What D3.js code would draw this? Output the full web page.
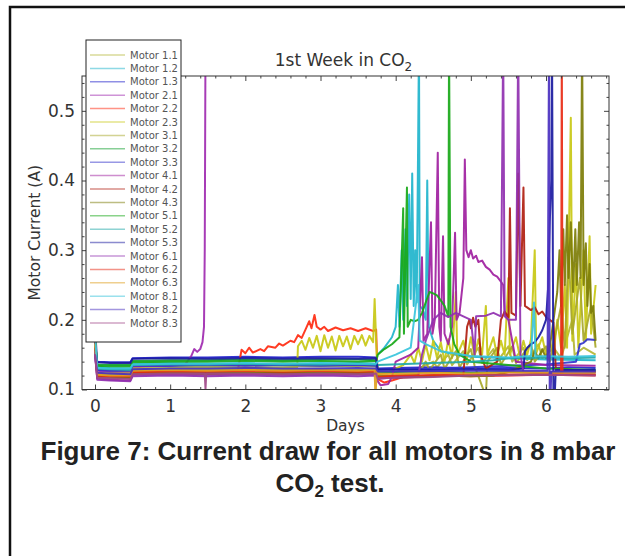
<!DOCTYPE html>
<html>
<head>
<meta charset="utf-8">
<script src="https://cdn.jsdelivr.net/npm/d3@7"></script>
<style>
    body { margin: 0; background: #fff; }
    svg text { font-family: "DejaVu Sans", sans-serif; }
    .caption { font-family: "Liberation Sans", Arial, sans-serif; font-weight: bold; fill: #222; }
</style>
</head>
<body>
<div id="chart"></div>
<script>
// legend names and colours, one per motor
const motors = ["Motor 1.1", "Motor 1.2", "Motor 1.3", "Motor 2.1", "Motor 2.2", "Motor 2.3",
    "Motor 3.1", "Motor 3.2", "Motor 3.3", "Motor 4.1", "Motor 4.2", "Motor 4.3",
    "Motor 5.1", "Motor 5.2", "Motor 5.3", "Motor 6.1", "Motor 6.2", "Motor 6.3",
    "Motor 8.1", "Motor 8.2", "Motor 8.3"];

const colors = ["#b3b636", "#1fb4cc", "#2222cc", "#a02ab0", "#ff2a10", "#c8c814",
    "#a8a82a", "#12a030", "#3333cc", "#a020a0", "#b01e10", "#7d7d08",
    "#18a818", "#20a8a8", "#1a1aa0", "#9030b0", "#e82a14", "#e0a020",
    "#38c4dc", "#4a30c0", "#a04888"];

const xTicks = [0, 1, 2, 3, 4, 5, 6];
const yTicks = [0.1, 0.2, 0.3, 0.4, 0.5];

// [day, current (A)]
const m11 = [[0,0.175],[0.03,0.128],[0.2,0.127],[0.47,0.126],[0.5,0.133],[1,0.134],[1.5,0.133],[2,0.135],[2.5,0.134],[3,0.133],[3.5,0.134],[3.74,0.133],[3.76,0.124],[4,0.126],[4.3,0.13],[4.5,0.14],[4.55,0.132],[4.7,0.15],[4.75,0.135],[4.9,0.155],[4.95,0.136],[5.1,0.16],[5.15,0.138],[5.3,0.158],[5.35,0.14],[5.5,0.162],[5.55,0.14],[5.7,0.16],[5.75,0.142],[5.9,0.165],[5.95,0.145],[6.1,0.16],[6.2,0.145],[6.35,0.2],[6.38,0.15],[6.5,0.16],[6.66,0.15]];
const m12 = [[0,0.19],[0.03,0.133],[0.2,0.131],[0.47,0.13],[0.5,0.137],[1,0.138],[1.5,0.137],[2,0.137],[2.5,0.136],[3,0.137],[3.5,0.138],[3.74,0.137],[3.76,0.15],[3.85,0.16],[3.95,0.175],[4.0,0.19],[4.03,0.25],[4.05,0.19],[4.08,0.3],[4.1,0.2],[4.13,0.33],[4.15,0.22],[4.18,0.38],[4.2,0.23],[4.22,0.41],[4.24,0.22],[4.26,0.3],[4.28,0.225],[4.3,0.47],[4.31,0.6],[4.32,0.22],[4.36,0.215],[4.4,0.2],[4.42,0.4],[4.44,0.19],[4.5,0.17],[4.6,0.155],[4.8,0.15],[5.0,0.147],[5.5,0.145],[6.0,0.143],[6.66,0.142]];
const m13 = [[0,0.165],[0.03,0.14],[0.2,0.139],[0.47,0.139],[0.5,0.145],[1,0.146],[1.5,0.146],[2,0.147],[2.5,0.146],[3,0.147],[3.5,0.147],[3.74,0.146],[3.76,0.13],[4,0.131],[4.5,0.132],[5,0.13],[5.5,0.131],[6,0.13],[6.3,0.132],[6.66,0.131]];
const m21 = [[0,0.2],[0.03,0.127],[0.2,0.125],[0.47,0.124],[0.5,0.132],[1,0.134],[1.2,0.136],[1.28,0.148],[1.32,0.158],[1.36,0.154],[1.4,0.158],[1.43,0.168],[1.45,0.19],[1.46,0.3],[1.47,0.6]];
const m22 = [[0,0.18],[0.03,0.12],[0.2,0.119],[0.47,0.118],[0.5,0.126],[1,0.127],[1.5,0.126],[1.9,0.127],[1.95,0.157],[2.0,0.152],[2.05,0.16],[2.1,0.153],[2.2,0.158],[2.25,0.155],[2.3,0.162],[2.4,0.16],[2.45,0.166],[2.5,0.163],[2.6,0.17],[2.65,0.168],[2.7,0.178],[2.75,0.174],[2.8,0.186],[2.85,0.198],[2.88,0.188],[2.92,0.207],[2.95,0.19],[3.0,0.186],[3.05,0.19],[3.1,0.184],[3.2,0.189],[3.3,0.185],[3.4,0.188],[3.5,0.184],[3.6,0.188],[3.7,0.184],[3.74,0.186],[3.76,0.115],[3.85,0.11],[3.95,0.113],[4.1,0.118],[4.5,0.12],[5,0.119],[5.5,0.12],[6,0.121],[6.66,0.12]];
const m23 = [[0,0.17],[0.03,0.124],[0.2,0.123],[0.47,0.123],[0.5,0.13],[1,0.131],[1.5,0.131],[2,0.132],[2.5,0.131],[2.69,0.132],[2.7,0.162],[2.75,0.17],[2.8,0.157],[2.85,0.174],[2.9,0.16],[2.95,0.177],[3.0,0.155],[3.05,0.178],[3.1,0.16],[3.15,0.176],[3.2,0.156],[3.25,0.177],[3.3,0.162],[3.35,0.176],[3.4,0.158],[3.45,0.177],[3.5,0.165],[3.55,0.178],[3.6,0.163],[3.65,0.177],[3.7,0.168],[3.72,0.23],[3.74,0.17],[3.76,0.122],[3.9,0.125],[4.0,0.13],[4.1,0.135],[4.2,0.15],[4.25,0.138],[4.3,0.16],[4.35,0.14],[4.4,0.165],[4.45,0.142],[4.5,0.17],[4.55,0.145],[4.6,0.168],[4.65,0.14],[4.7,0.172],[4.75,0.145],[4.8,0.24],[4.82,0.15],[4.9,0.17],[4.95,0.145],[5.0,0.175],[5.05,0.148],[5.1,0.172],[5.15,0.15],[5.2,0.22],[5.22,0.15],[5.3,0.175],[5.35,0.148],[5.4,0.17],[5.45,0.15],[5.5,0.26],[5.52,0.15],[5.6,0.175],[5.65,0.148],[5.7,0.17],[5.75,0.15],[5.8,0.172],[5.85,0.3],[5.87,0.152],[5.95,0.175],[6.0,0.15],[6.05,0.17],[6.1,0.15],[6.15,0.2],[6.2,0.16],[6.25,0.25],[6.28,0.16],[6.33,0.49],[6.35,0.17],[6.4,0.28],[6.43,0.16],[6.5,0.3],[6.53,0.17],[6.58,0.32],[6.6,0.18],[6.66,0.25]];
const m31 = [[0,0.16],[0.03,0.122],[0.2,0.121],[0.47,0.12],[0.5,0.128],[1,0.129],[1.5,0.128],[2,0.129],[2.5,0.128],[3,0.129],[3.5,0.128],[3.74,0.129],[3.76,0.118],[4.0,0.12],[4.3,0.122],[4.4,0.14],[4.45,0.128],[4.6,0.15],[4.65,0.13],[4.8,0.155],[4.85,0.132],[5.0,0.158],[5.05,0.134],[5.2,0.09],[5.22,0.14],[5.35,0.16],[5.4,0.136],[5.55,0.162],[5.6,0.138],[5.8,0.165],[5.85,0.14],[6.0,0.162],[6.05,0.14],[6.2,0.22],[6.25,0.16],[6.3,0.3],[6.35,0.18],[6.45,0.26],[6.5,0.17],[6.6,0.22],[6.66,0.16]];
const m32 = [[0,0.17],[0.03,0.136],[0.2,0.135],[0.47,0.135],[0.5,0.141],[1,0.142],[1.5,0.142],[2,0.143],[2.5,0.142],[3,0.143],[3.5,0.143],[3.74,0.142],[3.76,0.126],[4,0.125],[4.5,0.126],[5,0.124],[5.5,0.125],[6,0.124],[6.3,0.127],[6.66,0.126]];
const m33 = [[0,0.16],[0.03,0.128],[0.2,0.127],[0.47,0.127],[0.5,0.134],[1,0.134],[1.5,0.135],[2,0.134],[2.5,0.135],[3,0.134],[3.5,0.135],[3.74,0.134],[3.76,0.128],[4.5,0.13],[5,0.132],[5.5,0.134],[6,0.136],[6.4,0.14],[6.45,0.165],[6.5,0.167],[6.55,0.172],[6.66,0.171]];
const m41 = [[0,0.15],[0.03,0.116],[0.2,0.114],[0.47,0.113],[0.5,0.121],[1,0.122],[1.5,0.121],[2,0.122],[2.5,0.121],[3,0.121],[3.5,0.122],[3.74,0.121],[3.76,0.112],[3.8,0.106],[3.9,0.108],[3.95,0.118],[4.0,0.14],[4.1,0.145],[4.2,0.15],[4.3,0.16],[4.35,0.29],[4.37,0.17],[4.42,0.18],[4.47,0.34],[4.49,0.18],[4.52,0.2],[4.56,0.44],[4.58,0.19],[4.6,0.17],[4.63,0.32],[4.65,0.18],[4.7,0.165],[4.75,0.19],[4.79,0.325],[4.81,0.2],[4.85,0.21],[4.9,0.26],[4.92,0.43],[4.94,0.3],[4.97,0.29],[5.0,0.3],[5.03,0.288],[5.07,0.292],[5.1,0.283],[5.15,0.285],[5.2,0.276],[5.25,0.272],[5.3,0.265],[5.35,0.262],[5.4,0.255],[5.43,0.25],[5.45,0.21],[5.5,0.2],[5.55,0.17],[5.6,0.14],[6.0,0.135],[6.66,0.134]];
const m42 = [[0,0.185],[0.03,0.119],[0.2,0.118],[0.47,0.117],[0.5,0.124],[1,0.125],[1.5,0.124],[2,0.125],[2.5,0.124],[3,0.125],[3.5,0.124],[3.74,0.125],[3.76,0.118],[4.0,0.117],[4.5,0.119],[4.9,0.12],[4.95,0.19],[4.98,0.2],[5.0,0.188],[5.03,0.203],[5.06,0.19],[5.1,0.2],[5.13,0.15],[5.2,0.13],[5.35,0.14],[5.4,0.2],[5.45,0.212],[5.5,0.204],[5.52,0.36],[5.54,0.21],[5.6,0.206],[5.63,0.41],[5.66,0.22],[5.7,0.39],[5.72,0.22],[5.8,0.214],[5.85,0.218],[5.9,0.208],[5.95,0.212],[6.0,0.204],[6.05,0.2],[6.1,0.196],[6.13,0.13],[6.66,0.125]];
const m43 = [[0,0.16],[0.03,0.118],[0.2,0.117],[0.47,0.117],[0.5,0.123],[1,0.124],[1.5,0.123],[2,0.124],[2.5,0.123],[3,0.124],[3.5,0.123],[3.74,0.124],[3.76,0.12],[4.0,0.118],[4.5,0.12],[5.0,0.119],[5.3,0.12],[5.5,0.125],[5.8,0.14],[5.85,0.155],[5.9,0.145],[5.95,0.158],[6.0,0.145],[6.05,0.16],[6.1,0.2],[6.15,0.24],[6.18,0.3],[6.2,0.22],[6.23,0.33],[6.25,0.25],[6.28,0.35],[6.3,0.26],[6.33,0.34],[6.36,0.24],[6.39,0.33],[6.41,0.25],[6.44,0.34],[6.46,0.26],[6.48,0.6],[6.5,0.25],[6.53,0.31],[6.55,0.22],[6.58,0.28],[6.6,0.21],[6.63,0.22],[6.66,0.17]];
const m51 = [[0,0.175],[0.03,0.134],[0.2,0.133],[0.47,0.133],[0.5,0.139],[1,0.14],[1.5,0.14],[2,0.141],[2.5,0.14],[3,0.141],[3.5,0.14],[3.74,0.141],[3.76,0.15],[3.85,0.158],[3.95,0.165],[4.05,0.175],[4.1,0.36],[4.11,0.18],[4.15,0.39],[4.16,0.19],[4.2,0.2],[4.25,0.198],[4.3,0.2],[4.35,0.21],[4.4,0.225],[4.45,0.24],[4.5,0.238],[4.55,0.235],[4.6,0.228],[4.65,0.22],[4.7,0.205],[4.71,0.6],[4.73,0.19],[4.78,0.165],[4.85,0.15],[5.0,0.14],[5.5,0.135],[6.0,0.13],[6.66,0.128]];
const m52 = [[0,0.17],[0.03,0.13],[0.2,0.129],[0.47,0.128],[0.5,0.135],[1,0.136],[1.5,0.136],[2,0.137],[2.5,0.136],[3,0.136],[3.5,0.137],[3.74,0.136],[3.76,0.135],[4.5,0.138],[5,0.14],[5.3,0.142],[5.5,0.145],[6,0.146],[6.3,0.145],[6.66,0.146]];
const m53 = [[0,0.16],[0.03,0.139],[0.2,0.138],[0.47,0.138],[0.5,0.144],[1,0.145],[1.5,0.144],[2,0.145],[2.5,0.144],[3,0.145],[3.5,0.144],[3.74,0.145],[3.76,0.129],[4.5,0.128],[5,0.129],[5.5,0.128],[5.7,0.13],[5.72,0.155],[5.75,0.16],[5.8,0.165],[5.85,0.168],[5.9,0.175],[5.95,0.185],[6.0,0.2],[6.03,0.25],[6.05,0.34],[6.07,0.4],[6.08,0.6],[6.1,0.05],[6.13,0.128],[6.66,0.128]];
const m61 = [[0,0.155],[0.03,0.114],[0.2,0.113],[0.47,0.112],[0.5,0.119],[1,0.12],[1.5,0.119],[2,0.12],[2.5,0.119],[3,0.12],[3.5,0.119],[3.74,0.12],[3.76,0.115],[4.0,0.118],[4.3,0.12],[4.35,0.15],[4.4,0.17],[4.5,0.2],[4.55,0.205],[4.6,0.21],[4.7,0.204],[4.8,0.21],[4.9,0.205],[5.0,0.2],[5.05,0.15],[5.07,0.205],[5.2,0.206],[5.3,0.21],[5.4,0.205],[5.43,0.6],[5.45,0.205],[5.5,0.2],[5.6,0.2],[5.63,0.6],[5.66,0.15],[5.7,0.125],[6.66,0.122]];
const m62 = [[0,0.17],[0.03,0.12],[0.2,0.119],[0.47,0.119],[0.5,0.125],[1,0.126],[1.5,0.126],[2,0.127],[2.5,0.126],[3,0.127],[3.5,0.126],[3.74,0.126],[3.76,0.118],[4,0.12],[5,0.121],[6,0.122],[6.2,0.122],[6.21,0.6],[6.22,0.122],[6.66,0.121]];
const m63 = [[0,0.165],[0.03,0.121],[0.2,0.12],[0.47,0.12],[0.5,0.127],[1,0.128],[1.5,0.127],[2,0.128],[2.5,0.127],[3,0.128],[3.5,0.127],[3.72,0.128],[3.73,0.09],[3.75,0.127],[3.76,0.122],[4.5,0.124],[5,0.123],[5.6,0.125],[6,0.124],[6.66,0.124]];
const m81 = [[0,0.18],[0.03,0.131],[0.2,0.13],[0.47,0.13],[0.5,0.136],[1,0.137],[1.5,0.137],[2,0.138],[2.5,0.137],[3,0.138],[3.5,0.137],[3.74,0.137],[3.76,0.14],[4,0.15],[4.2,0.16],[4.3,0.25],[4.32,0.17],[4.4,0.165],[4.6,0.155],[5,0.148],[5.5,0.146],[5.8,0.148],[5.84,0.225],[5.86,0.148],[6.3,0.147],[6.66,0.148]];
const m82 = [[0,0.15],[0.03,0.124],[0.2,0.123],[0.47,0.122],[0.5,0.129],[1,0.13],[1.5,0.13],[2,0.131],[2.5,0.13],[3,0.13],[3.5,0.131],[3.74,0.13],[3.76,0.126],[5,0.127],[6.02,0.127],[6.04,0.6],[6.05,0.05],[6.07,0.126],[6.66,0.126]];
const m83 = [[0,0.15],[0.03,0.117],[0.2,0.116],[0.47,0.115],[0.5,0.122],[1,0.123],[1.46,0.123],[1.47,0.1],[1.48,0.123],[2,0.123],[2.5,0.122],[3,0.123],[3.5,0.122],[3.74,0.123],[3.76,0.116],[4.5,0.118],[5,0.12],[6,0.121],[6.66,0.12]];

const currents = [m11, m12, m13, m21, m22, m23, m31, m32, m33, m41, m42, m43,
    m51, m52, m53, m61, m62, m63, m81, m82, m83];

const W = 625, H = 556;
const margin = {top: 76, right: 16, bottom: 166.5, left: 82};
const width = W - margin.left - margin.right;
const height = H - margin.top - margin.bottom;

const svg = d3.select("#chart").append("svg")
    .attr("width", W)
    .attr("height", H);

// page frame (left and top edges only are visible)
svg.append("path")
    .attr("d", "M10," + H + "V7H" + W)
    .attr("fill", "none")
    .attr("stroke", "#111")
    .attr("stroke-width", 2.5);

const g = svg.append("g")
    .attr("transform", "translate(" + margin.left + "," + margin.top + ")");

const x = d3.scaleLinear().domain([-0.173, 6.838]).range([0, width]);
const y = d3.scaleLinear().domain([0.1, 0.55]).range([height, 0]);

g.append("clipPath").attr("id", "plotclip")
    .append("rect").attr("width", width).attr("height", height);

const line = d3.line()
    .x(d => x(d[0]))
    .y(d => y(d[1]));

g.append("g")
    .attr("clip-path", "url(#plotclip)")
    .selectAll("path")
    .data(currents)
    .enter().append("path")
    .attr("d", line)
    .attr("fill", "none")
    .attr("stroke", (d, i) => colors[i])
    .attr("stroke-width", 2)
    .attr("stroke-linejoin", "round")
    .attr("opacity", 0.92);

// axes: matplotlib style, ticks pointing in, on all four sides
const xMinor = d3.range(0.2, 6.81, 0.2).filter(v => Math.abs(v - Math.round(v)) > 1e-6);
const yMinor = d3.range(0.12, 0.551, 0.02).filter(v => Math.abs(v * 10 - Math.round(v * 10)) > 1e-6);

function styleAxis(sel) {
    sel.select(".domain").remove();
    sel.selectAll("line").attr("stroke", "#444");
    sel.selectAll("text").attr("fill", "#333").style("font-size", "17px");
}

g.append("g").attr("transform", "translate(0," + height + ")")
    .call(d3.axisBottom(x).tickValues(xTicks).tickFormat(d3.format("d")).tickSize(-5).tickPadding(10))
    .call(styleAxis);
g.append("g").attr("transform", "translate(0," + height + ")")
    .call(d3.axisBottom(x).tickValues(xMinor).tickFormat("").tickSize(-2.5))
    .call(styleAxis);
g.append("g")
    .call(d3.axisTop(x).tickValues(xTicks).tickFormat("").tickSize(-5))
    .call(styleAxis);
g.append("g")
    .call(d3.axisTop(x).tickValues(xMinor).tickFormat("").tickSize(-2.5))
    .call(styleAxis);

g.append("g")
    .call(d3.axisLeft(y).tickValues(yTicks).tickFormat(d3.format(".1f")).tickSize(-5).tickPadding(7))
    .call(styleAxis);
g.append("g")
    .call(d3.axisLeft(y).tickValues(yMinor).tickFormat("").tickSize(-2.5))
    .call(styleAxis);
g.append("g").attr("transform", "translate(" + width + ",0)")
    .call(d3.axisRight(y).tickValues(yTicks).tickFormat("").tickSize(-5))
    .call(styleAxis);
g.append("g").attr("transform", "translate(" + width + ",0)")
    .call(d3.axisRight(y).tickValues(yMinor).tickFormat("").tickSize(-2.5))
    .call(styleAxis);

g.append("rect")
    .attr("width", width)
    .attr("height", height)
    .attr("fill", "none")
    .attr("stroke", "#333")
    .attr("stroke-width", 1);

// title and axis labels
const title = g.append("text")
    .attr("x", width / 2 - 2)
    .attr("y", -10)
    .attr("text-anchor", "middle")
    .attr("fill", "#333")
    .style("font-size", "17px")
    .text("1st Week in CO");
title.append("tspan").attr("dy", 5).style("font-size", "12px").text("2");

g.append("text")
    .attr("x", width / 2)
    .attr("y", height + 41)
    .attr("text-anchor", "middle")
    .attr("fill", "#333")
    .style("font-size", "15.5px")
    .text("Days");

g.append("text")
    .attr("transform", "translate(-47," + (height / 2) + ") rotate(-90)")
    .attr("text-anchor", "middle")
    .attr("dominant-baseline", "central")
    .attr("fill", "#333")
    .style("font-size", "15.5px")
    .text("Motor Current (A)");

// legend
const legend = svg.append("g").attr("transform", "translate(86,40)");
legend.append("rect")
    .attr("width", 95)
    .attr("height", 302)
    .attr("fill", "#fff")
    .attr("stroke", "#222")
    .attr("stroke-width", 1);

const item = legend.selectAll("g.item")
    .data(motors)
    .enter().append("g")
    .attr("class", "item")
    .attr("transform", (d, i) => "translate(0," + (15 + i * 13.4) + ")");

item.append("line")
    .attr("x1", 4).attr("x2", 39)
    .attr("stroke", (d, i) => colors[i])
    .attr("stroke-width", 1.5)
    .attr("opacity", 0.5);

item.append("text")
    .attr("x", 44)
    .attr("dominant-baseline", "central")
    .attr("fill", "#555")
    .style("font-size", "10px")
    .text(d => d);

// figure caption
svg.append("text")
    .attr("class", "caption")
    .attr("x", 328)
    .attr("y", 460)
    .attr("text-anchor", "middle")
    .style("font-size", "26px")
    .text("Figure 7: Current draw for all motors in 8 mbar");

const cap2 = svg.append("text")
    .attr("class", "caption")
    .attr("x", 330)
    .attr("y", 492)
    .attr("text-anchor", "middle")
    .style("font-size", "26px")
    .text("CO");
cap2.append("tspan").attr("dy", 5).style("font-size", "17px").text("2");
cap2.append("tspan").attr("dy", -5).text(" test.");
</script>
</body>
</html>
